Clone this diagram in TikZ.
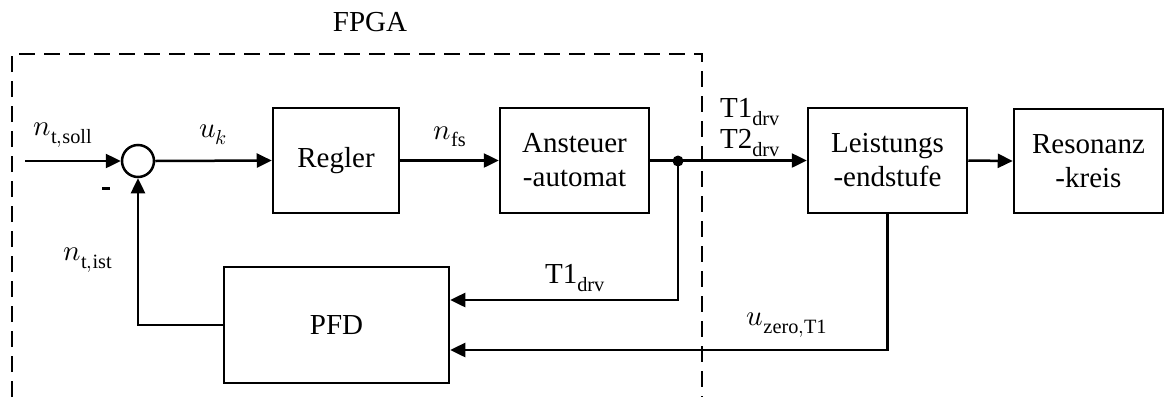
\documentclass[tikz,border=0pt]{standalone}
\usepackage{fontspec}
\usepackage{unicode-math}
\setmainfont{Liberation Serif}
\setmathfont{Latin Modern Math}
\usetikzlibrary{arrows.meta}
\begin{document}
\begin{tikzpicture}[x=1pt,y=-1pt,
  box/.style={draw,line width=2.5pt,rectangle,inner sep=0pt,align=center,font=\fontsize{29}{34}\selectfont},
  arr/.style={line width=2.5pt,-{Triangle[length=15pt,width=14pt]}},
  lbl/.style={font=\fontsize{29}{34}\selectfont,inner sep=0pt}]
\useasboundingbox (0,0) rectangle (1165,397);
% FPGA boundary
\node[lbl] (fpga) at (370,22) {FPGA};
\draw[line width=2.5pt,dash pattern=on 16pt off 9pt] (12,397) -- (12,54) -- (702,54) -- (702,397);
% blocks
\node[draw,circle,line width=2.5pt,minimum size=32pt,inner sep=0pt] (sum) at (138,161) {};
\node[box,minimum width=126pt,minimum height=105pt] (regler) at (336,160.5) {Regler};
\node[box,minimum width=149pt,minimum height=105pt] (anst) at (574.5,160.5) {Ansteuer\\-automat};
\node[box,minimum width=159pt,minimum height=105pt] (leist) at (887.5,160.5) {Leistungs\\-endstufe};
\node[box,minimum width=149pt,minimum height=104pt] (reson) at (1088.5,161) {Resonanz\\-kreis};
\node[box,minimum width=225pt,minimum height=116pt] (pfd) at (336.5,325) {PFD};
% coordinates
\coordinate (in) at (25,161);
\coordinate (dot) at (678,161);
\fill (dot) circle (5.5pt);
% connectors
\draw[arr] (in) -- (sum.west);
\draw[arr] (sum.east) -- (regler.west);
\draw[arr] (regler.east) -- (anst.west);
\draw[arr] (anst.east) -- (leist.west);
\draw[arr] (leist.east) -- (reson.west);
\draw[arr] (dot) |- ([yshift=25pt]pfd.east);
\draw[arr] (leist.south) |- ([yshift=-25pt]pfd.east);
\draw[arr] (pfd.west) -| (sum.south);
% labels
\node[lbl] (lsoll) at (63,135) {$n_{\mathrm{t,soll}}$};
\node[lbl] (luk) at (213,135) {$u_k$};
\node[lbl] (lnfs) at (450,137) {$n_{\mathrm{fs}}$};
\node[lbl] (lminus) at (106,188) {\rule{8pt}{3pt}};
\node[lbl] (list) at (88,260) {$n_{\mathrm{t,ist}}$};
\node[lbl] (lt1a) at (750,112) {$\mathrm{T1}_{\mathrm{drv}}$};
\node[lbl] (lt2a) at (750,143) {$\mathrm{T2}_{\mathrm{drv}}$};
\node[lbl] (lt1b) at (575,278) {$\mathrm{T1}_{\mathrm{drv}}$};
\node[lbl] (luz) at (787,325) {$u_{\mathrm{zero,T1}}$};
\end{tikzpicture}
\end{document}
